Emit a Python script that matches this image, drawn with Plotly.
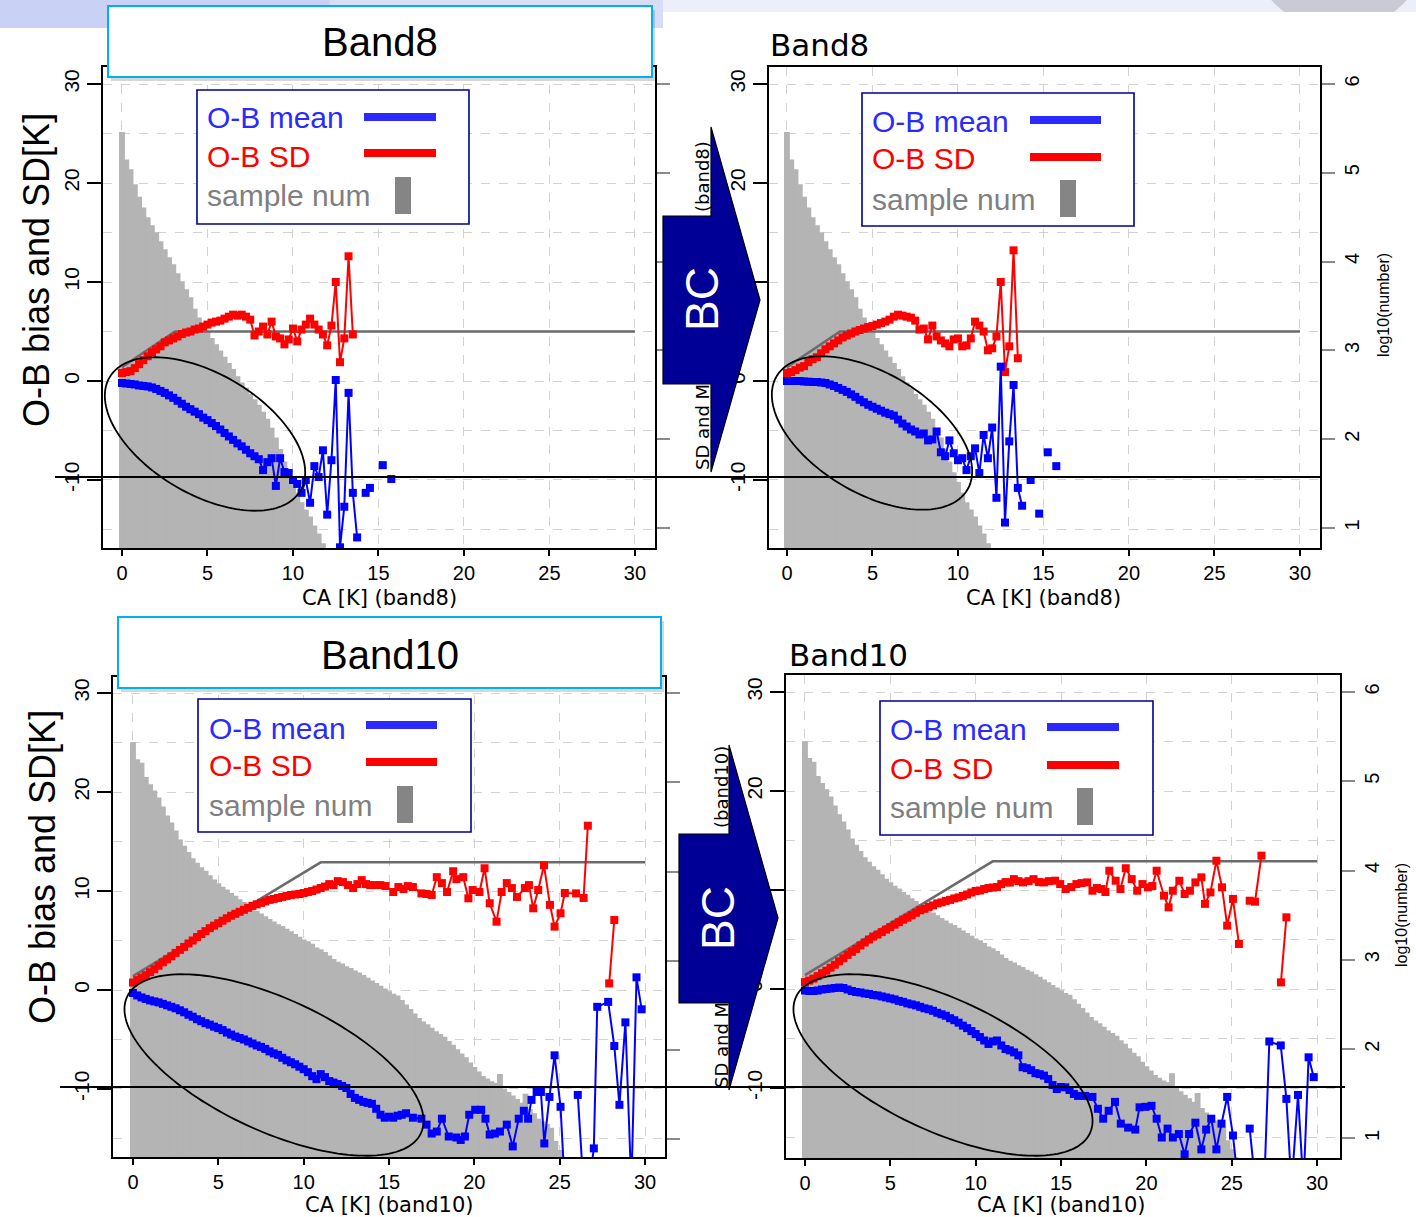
import math
import plotly.graph_objects as go

W, H = 1416, 1217
BIN = 0.25  # width (K) of the CA classes

# ---------------- data ----------------
# sample number per CA class, log10(number); classes start at 0 K, step BIN
hist_band8 = [5.45, 5.14, 5.03, 4.86, 4.72, 4.60, 4.49, 4.40, 4.32, 4.22,
              4.13, 4.04, 3.96, 3.86, 3.77, 3.68, 3.59, 3.46, 3.36, 3.27,
              3.20, 3.13, 3.06, 2.99, 2.92, 2.85, 2.78, 2.70, 2.63, 2.57,
              2.50, 2.44, 2.38, 2.30, 2.22, 2.12, 2.01, 1.88, 1.74, 1.62,
              1.51, 1.39, 1.28, 1.20, 1.12, 1.02, 0.93, 0.82, 0.70, 0.60, 0.50]
hist_band10 = [5.44, 5.25, 5.21, 5.05, 4.97, 4.90, 4.82, 4.72, 4.62, 4.54,
               4.45, 4.35, 4.28, 4.21, 4.14, 4.09, 4.04, 4.00, 3.95, 3.90,
               3.86, 3.82, 3.79, 3.75, 3.72, 3.68, 3.65, 3.61, 3.57, 3.55,
               3.52, 3.49, 3.46, 3.43, 3.40, 3.38, 3.35, 3.32, 3.29, 3.26,
               3.23, 3.21, 3.18, 3.14, 3.12, 3.09, 3.05, 3.01, 2.98, 2.96,
               2.93, 2.91, 2.88, 2.86, 2.83, 2.80, 2.77, 2.74, 2.71, 2.68,
               2.65, 2.62, 2.60, 2.55, 2.50, 2.45, 2.40, 2.35, 2.31, 2.28,
               2.24, 2.20, 2.17, 2.14, 2.09, 2.05, 2.00, 1.95, 1.91, 1.85,
               1.80, 1.75, 1.70, 1.67, 1.64, 1.62, 1.72, 1.56, 1.52, 1.48,
               1.44, 1.40, 1.50, 1.33, 1.28, 1.22, 1.19, 1.16, 1.12, 0.97,
               0.87, 0.78]

# reference (gray) line
gray8_x = [0, 3.1, 30]
gray8_y = [1.4, 5.0, 5.0]
gray10_x = [0, 11.0, 30]
gray10_y = [1.4, 12.9, 12.9]

# Band8 before BC (values per class, step BIN from 0 K)
b8_mean_before = [-0.2, -0.25, -0.3, -0.35, -0.45, -0.5, -0.55, -0.65, -0.8, -1.0,
                  -1.2, -1.45, -1.7, -2.0, -2.3, -2.6, -2.85, -3.1, -3.35, -3.7,
                  -3.95, -4.25, -4.55, -4.9, -5.25, -5.6, -5.95, -6.3, -6.6, -6.95,
                  -7.3, -7.6, -7.9, -9.0, -8.2, -7.8, -10.6, -7.8, -9.2, -9.3,
                  -10.0, -10.4, -11.3, -10.0, -12.3, -8.6, -9.7, -7.0, -13.5, -8.0,
                  0.1, -16.8, -12.7, -1.2, -11.3, -15.8, None, -11.3, -10.8, None,
                  None, -8.5, None, -9.9, None]
b8_sd_before = [0.8, 0.9, 1.0, 1.3, 1.7, 2.1, 2.5, 2.9, 3.2, 3.5,
                3.9, 4.1, 4.3, 4.5, 4.75, 4.9, 5.0, 5.2, 5.3, 5.5,
                5.7, 5.9, 6.0, 6.1, 6.3, 6.5, 6.7, 6.6, 6.7, 6.5,
                6.2, 4.6, 5.0, 5.5, 4.7, 6.0, 4.5, 4.3, 3.7, 4.2,
                5.3, 4.0, 5.2, 5.7, 6.3, 5.7, 5.2, 4.7, 3.6, 5.6,
                10.0, 1.9, 4.3, 12.6, 4.7]

# Band8 after BC
b8_mean_after = [0.0, 0.0, 0.0, 0.0, -0.05, -0.07, -0.1, -0.1, -0.15, -0.2,
                 -0.35, -0.5, -0.7, -0.9, -1.1, -1.35, -1.6, -1.9, -2.15, -2.4,
                 -2.6, -2.8, -3.0, -3.2, -3.35, -3.5, -3.9, -4.3, -4.6, -4.9,
                 -5.1, -5.4, -5.3, -6.0, -5.9, -5.1, -7.2, -7.6, -6.0, -7.3,
                 -8.0, -7.8, -9.0, -7.6, -6.8, -9.3, -5.45, -7.8, -4.7, -11.8,
                 1.45, -14.3, -6.1, -0.4, -10.8, -12.6, None, -10.0, None, -13.4,
                 None, -7.2, None, -8.6, None]
b8_sd_after = [0.8, 0.9, 1.1, 1.35, 1.5, 1.9, 2.2, 2.4, 2.8, 3.2,
               3.5, 3.8, 4.1, 4.4, 4.6, 4.8, 5.0, 5.15, 5.3, 5.45,
               5.55, 5.7, 5.85, 6.0, 6.2, 6.5, 6.7, 6.6, 6.5, 6.4,
               6.1, 5.2, 5.3, 4.2, 5.6, 4.5, 4.1, 3.8, 3.5, 4.2,
               4.3, 3.5, 3.6, 4.3, 6.0, 5.6, 5.0, 3.1, 3.3, 4.5,
               10.0, 0.9, 3.5, 13.2, 2.3]

# Band10 before BC: dense classes (step BIN from 0 K) + sparse tail (CA, value)
b10_mean_before = [-0.3, -0.55, -0.75, -0.9, -1.05, -1.15, -1.25, -1.4, -1.55, -1.7,
                   -1.85, -2.05, -2.25, -2.5, -2.7, -2.95, -3.15, -3.35, -3.5, -3.7,
                   -3.85, -4.05, -4.3, -4.5, -4.7, -4.85, -5.0, -5.2, -5.4, -5.6,
                   -5.75, -5.95, -6.2, -6.4, -6.55, -6.85, -7.1, -7.3, -7.5, -7.75,
                   -8.0, -8.3, -8.7, -9.0, -8.5, -8.8, -9.2, -9.35, -9.5, -9.7,
                   -9.9, -10.5, -10.9, -11.1, -11.3, -11.4, -11.5, -12.0, -12.6, -12.9,
                   -12.8, -12.9, -12.7, -12.6]
b10_mean_before_tail_ca = [16.0, 16.4, 16.9, 17.2, 17.5, 17.8, 18.1, 18.5, 18.95, 19.2,
                           19.45, 19.7, 20.05, 20.4, 20.65, 20.9, 21.2, 21.5, 21.9, 22.25,
                           22.6, 22.9, 23.15, 23.35, 23.65, 23.9, 24.1, 24.4, 24.7, 25.05,
                           25.3, 25.7, 26.06, 26.4, 26.7, 27.0, 27.2, 27.84, 28.2, 28.5,
                           28.85, 29.2, 29.5, 29.8]
b10_mean_before_tail = [-12.45, -12.9, -13.0, -13.6, -14.5, -14.3, -13.0, -14.8, -14.9, -15.15,
                        -14.8, -12.6, -12.1, -12.1, -13.0, -14.6, -14.5, -14.3, -13.6, -15.8,
                        -13.0, -12.2, -13.0, -11.1, -10.3, -10.3, -15.5, -10.8, -6.6, -11.8,
                        -20, None, -10.6, -20, -20, -16.0, -1.7, -1.2, -5.66, -11.6,
                        -3.27, -20, 1.28, -1.95]
b10_sd_before = [0.75, 1.0, 1.25, 1.5, 1.8, 2.1, 2.45, 2.8, 3.1, 3.4,
                 3.75, 4.05, 4.35, 4.7, 5.0, 5.35, 5.65, 5.95, 6.25, 6.5,
                 6.75, 7.0, 7.25, 7.5, 7.7, 7.9, 8.1, 8.3, 8.5, 8.65,
                 8.8, 8.95, 9.1, 9.2, 9.3, 9.4, 9.5, 9.6, 9.65, 9.7,
                 9.8, 9.9, 10.0, 10.15, 10.3, 10.45, 10.7, 10.6, 11.0]
b10_sd_before_tail_ca = [12.3, 12.6, 12.9, 13.15, 13.4, 13.65, 13.9, 14.2, 14.5, 14.8,
                         15.25, 15.55, 15.85, 16.1, 16.4, 16.9, 17.2, 17.5, 17.8, 18.1,
                         18.4, 18.76, 18.95, 19.35, 19.65, 19.9, 20.3, 20.6, 20.9, 21.3,
                         21.6, 21.9, 22.2, 22.5, 22.96, 23.2, 23.45, 23.74, 24.08, 24.43,
                         24.7, 25.05, 25.3, 25.96, 26.4, 26.65, 27.3, 27.9, 28.2]
b10_sd_before_tail = [10.9, 10.6, 10.3, 10.7, 11.1, 10.7, 10.6, 10.6, 10.6, 10.5,
                      9.9, 10.4, 10.2, 10.5, 10.4, 9.76, 9.7, 9.6, 11.4, 10.8,
                      9.9, 12.0, 11.2, 11.4, 9.26, 10.1, 9.9, 12.3, 8.76, 6.9,
                      9.9, 10.8, 10.3, 9.4, 10.3, 10.6, 8.25, 10.1, 12.6, 8.6,
                      6.4, 7.75, 9.8, 9.76, 9.3, 16.6, None, 0.67, 7.07]

# Band10 after BC
b10_mean_after = [-0.15, -0.2, -0.2, -0.15, -0.05, 0.0, 0.05, 0.1, 0.15, 0.1,
                  -0.05, -0.2, -0.3, -0.35, -0.45, -0.5, -0.6, -0.65, -0.75, -0.85,
                  -0.95, -1.05, -1.2, -1.3, -1.45, -1.55, -1.65, -1.8, -1.95, -2.05,
                  -2.2, -2.4, -2.55, -2.7, -2.95, -3.15, -3.4, -3.7, -3.95, -4.25,
                  -4.55, -4.85, -5.2, -5.55, -5.3, -5.2, -5.7, -6.06, -6.2, -6.4,
                  -6.7, -7.9, -8.0, -8.2, -8.5, -8.6, -8.75, -9.1, -9.7, -10.1,
                  -9.9, -9.93, -10.2, -10.6]
b10_mean_after_tail_ca = [16.0, 16.4, 16.84, 17.16, 17.47, 17.79, 18.16, 18.5, 18.93, 19.35,
                          19.6, 19.95, 20.3, 20.6, 20.9, 21.24, 21.55, 21.9, 22.24, 22.5,
                          22.87, 23.22, 23.5, 23.8, 24.1, 24.4, 24.73, 25.07, 25.4, 25.7,
                          26.05, 26.4, 26.7, 26.9, 27.2, 27.87, 28.2, 28.5, 28.88, 29.2,
                          29.5, 29.8]
b10_mean_after_tail = [-10.8, -10.8, -10.9, -12.1, -13.1, -12.3, -11.4, -13.6, -14.0, -14.2,
                       -11.95, -11.9, -11.8, -13.1, -15.0, -14.1, -15.0, -14.65, -16.7, -14.65,
                       -13.5, -16.2, -14.2, -13.1, -16.2, -13.6, -10.9, -14.8, -20, None,
                       -14.1, -20, None, -20, -5.3, -5.7, -11.1, -20, -10.7, -20,
                       -6.9, -8.9]
b10_sd_after = [0.7, 0.85, 1.05, 1.3, 1.6, 1.85, 2.15, 2.45, 2.8, 3.1,
                3.45, 3.75, 4.05, 4.4, 4.7, 5.0, 5.3, 5.5, 5.75, 6.0,
                6.25, 6.5, 6.75, 7.0, 7.2, 7.45, 7.7, 7.95, 8.1, 8.3,
                8.45, 8.65, 8.75, 8.9, 9.0, 9.15, 9.25, 9.4, 9.55, 9.75,
                9.9, 9.95, 10.1, 10.2, 10.25, 10.3, 10.6, 10.8, 10.75]
b10_sd_after_tail_ca = [12.24, 12.5, 12.77, 13.1, 13.39, 13.7, 14.0, 14.3, 14.65, 14.95,
                        15.27, 15.6, 15.9, 16.2, 16.53, 16.84, 17.1, 17.36, 17.6, 17.83,
                        18.2, 18.48, 18.79, 19.14, 19.46, 19.77, 20.09, 20.35, 20.6, 21.03,
                        21.3, 21.55, 21.93, 22.24, 22.55, 22.87, 23.22, 23.43, 23.75, 24.1,
                        24.43, 24.73, 25.07, 25.42, 25.75, 26.05, 26.36, 26.74, 27.3, 27.88,
                        28.2]
b10_sd_after_tail = [11.1, 10.9, 10.77, 10.9, 11.1, 10.8, 10.77, 10.9, 10.94, 10.6,
                     10.1, 10.3, 10.6, 10.7, 10.77, 9.93, 10.2, 10.1, 9.8, 11.95,
                     10.94, 10.1, 12.2, 11.1, 9.93, 10.6, 10.27, 10.4, 11.95, 9.43,
                     8.25, 9.93, 10.94, 9.6, 9.93, 10.77, 11.28, 8.6, 9.76, 12.96,
                     10.27, 6.4, 9.1, 4.55, None, 8.92, 8.82, 13.47, None, 0.67,
                     7.24]

x_ticks = [0, 5, 10, 15, 20, 25, 30]
y_ticks = [-10, 0, 10, 20, 30]
y_ticktext = ["-10", "0", "10", "20", "30"]
log_ticks = [1, 2, 3, 4, 5, 6]

# ---------------- helpers ----------------
FONT = "Liberation Sans, Arial, sans-serif"
FONT2 = "DejaVu Sans, sans-serif"
GRID = "#d2d2d2"
HIST_COLOR = "#b4b4b4"


def classes(vals):
    return [i * BIN for i in range(len(vals))]


def series(dense, tail_ca=None, tail=None):
    xs = classes(dense)
    ys = list(dense)
    if tail_ca:
        xs += tail_ca
        ys += tail
    return xs, ys


def fx(x):
    return x / W


def fy(y):
    return 1 - y / H


def rect(x0, y0, x1, y1, **kw):
    return dict(type="rect", xref="paper", yref="paper",
                x0=fx(x0), x1=fx(x1), y0=fy(y1), y1=fy(y0), **kw)


def poly(points, **kw):
    d = "M " + " L ".join(f"{fx(x):.5f},{fy(y):.5f}" for x, y in points) + " Z"
    return dict(type="path", xref="paper", yref="paper", path=d, **kw)


def ellipse(cx, cy, a, b, deg):
    th = math.radians(deg)
    pts = []
    for k in range(160):
        t = 2 * math.pi * k / 160
        ex, ey = a * math.cos(t), b * math.sin(t)
        pts.append((cx + ex * math.cos(th) - ey * math.sin(th),
                    cy + ex * math.sin(th) + ey * math.cos(th)))
    return poly(pts, line=dict(color="black", width=1.8), fillcolor="rgba(0,0,0,0)", layer="above")


def hline(x0, x1, y, color="black", width=2):
    return dict(type="line", xref="paper", yref="paper", x0=fx(x0), x1=fx(x1),
                y0=fy(y), y1=fy(y), line=dict(color=color, width=width), layer="above")


def ann(text, x, y, size, color="black", family=FONT, angle=0, xanchor="center"):
    return dict(text=text, x=fx(x), y=fy(y), xref="paper", yref="paper", showarrow=False,
                xanchor=xanchor, yanchor="middle", textangle=angle,
                font=dict(family=family, size=size, color=color))


# ---------------- panels ----------------
panels = [
    dict(px=(103, 655, 67, 548), xr=[-1.11, 31.17], yr=[-16.87, 31.72], lr=[0.775, 6.19], lab=False,
         hist=hist_band8, gx=gray8_x, gy=gray8_y,
         sd=series(b8_sd_before), mean=series(b8_mean_before)),
    dict(px=(769, 1320, 67, 548), xr=[-1.05, 31.17], yr=[-16.87, 31.72], lr=[0.775, 6.19], lab=True,
         hist=hist_band8, gx=gray8_x, gy=gray8_y,
         sd=series(b8_sd_after), mean=series(b8_mean_after)),
    dict(px=(113, 665, 677, 1157), xr=[-1.17, 31.17], yr=[-16.87, 31.62], lr=[0.80, 6.18], lab=False,
         hist=hist_band10, gx=gray10_x, gy=gray10_y,
         sd=series(b10_sd_before, b10_sd_before_tail_ca, b10_sd_before_tail),
         mean=series(b10_mean_before, b10_mean_before_tail_ca, b10_mean_before_tail)),
    dict(px=(786, 1340, 675, 1158), xr=[-1.11, 31.34], yr=[-17.07, 31.72], lr=[0.78, 6.19], lab=True,
         hist=hist_band10, gx=gray10_x, gy=gray10_y,
         sd=series(b10_sd_after, b10_sd_after_tail_ca, b10_sd_after_tail),
         mean=series(b10_mean_after, b10_mean_after_tail_ca, b10_mean_after_tail)),
]

fig = go.Figure()
layout = {}
tickfont = dict(family=FONT, size=21, color="black")

for i, p in enumerate(panels, start=1):
    xa = "x" if i == 1 else f"x{i}"
    yb = "y" if i == 1 else f"y{2 * i - 1}"
    yo = f"y{2 * i}"
    l, r, t, b = p["px"]

    fig.add_trace(go.Bar(x=classes(p["hist"]), y=p["hist"], width=BIN,
                         marker=dict(color=HIST_COLOR, line=dict(width=1.6, color=HIST_COLOR)),
                         xaxis=xa, yaxis=yb, hoverinfo="skip"))
    fig.add_trace(go.Scatter(x=p["gx"], y=p["gy"], mode="lines",
                             line=dict(color="#6b6b6b", width=2.5), xaxis=xa, yaxis=yo))
    fig.add_trace(go.Scatter(x=p["sd"][0], y=p["sd"][1], mode="lines+markers",
                             line=dict(color="#ff0000", width=2),
                             marker=dict(symbol="square", size=8, color="#ff0000"),
                             xaxis=xa, yaxis=yo))
    fig.add_trace(go.Scatter(x=p["mean"][0], y=p["mean"][1], mode="lines+markers",
                             line=dict(color="#0000ff", width=2),
                             marker=dict(symbol="square", size=8, color="#0000ff"),
                             xaxis=xa, yaxis=yo))

    layout["xaxis" if i == 1 else f"xaxis{i}"] = dict(
        domain=[fx(l), fx(r)], range=p["xr"], anchor=yb, tickvals=x_ticks,
        ticks="outside", ticklen=6, tickwidth=1.5, tickcolor="black",
        showline=True, linecolor="black", linewidth=1.5, mirror=True,
        showgrid=True, gridcolor=GRID, griddash="dash", gridwidth=1, zeroline=False,
        tickfont=dict(family=FONT, size=20, color="black"))
    layout["yaxis" if i == 1 else f"yaxis{2 * i - 1}"] = dict(
        domain=[fy(b), fy(t)], range=p["lr"], anchor=xa, side="right", tickvals=log_ticks,
        ticks="outside", ticklen=13, tickwidth=2, tickcolor="#8a8a8a",
        showline=True, linecolor="black", linewidth=1.5, showgrid=False, zeroline=False,
        showticklabels=p["lab"], tickangle=-90, tickfont=dict(family=FONT, size=20, color="black"))
    layout[f"yaxis{2 * i}"] = dict(
        range=p["yr"], overlaying=yb, anchor=xa, side="left",
        tickvals=y_ticks, ticktext=y_ticktext, ticks="outside", ticklen=14, tickwidth=1.5,
        tickcolor="black", showline=True, linecolor="black", linewidth=1.5,
        showgrid=True, gridcolor=GRID, griddash="dash", gridwidth=1, zeroline=False,
        minor=dict(tickvals=[-15, -5, 5, 15, 25], showgrid=True, gridcolor=GRID,
                   griddash="dash", gridwidth=1, ticks=""),
        tickangle=-90, tickfont=tickfont)

# original plot titles of the left panels (mostly hidden behind the slide boxes)
fig.add_trace(go.Scatter(x=[-1.11], y=[33.94], mode="text", text=["Band8"], textposition="middle right",
                         textfont=dict(family=FONT2, size=31, color="black"),
                         xaxis="x", yaxis="y2", cliponaxis=False, hoverinfo="skip"))
fig.add_trace(go.Scatter(x=[-1.17], y=[33.84], mode="text", text=["Band10"], textposition="middle right",
                         textfont=dict(family=FONT2, size=31, color="black"),
                         xaxis="x3", yaxis="y6", cliponaxis=False, hoverinfo="skip"))

# ---------------- decorations (slide overlay) ----------------
shapes = []
# slide background strips at top
shapes.append(rect(0, 0, 330, 28, fillcolor="#c9d1f4", line=dict(width=0), layer="below"))
shapes.append(rect(330, 0, 663, 28, fillcolor="#d8ddf7", line=dict(width=0), layer="below"))
shapes.append(rect(663, 0, 1416, 12, fillcolor="#eceffa", line=dict(width=0), layer="below"))
shapes.append(dict(type="circle", xref="paper", yref="paper", x0=fx(1248), x1=fx(1430),
                   y0=fy(30), y1=fy(-150), fillcolor="#c9cad3", line=dict(width=0), layer="below"))
shapes.append(rect(663, 12, 1416, 40, fillcolor="white", line=dict(width=0), layer="below"))

# ellipses
shapes.append(ellipse(205, 434, 111, 60, 30.8))
shapes.append(ellipse(872, 433, 111, 60, 30.8))
shapes.append(ellipse(274, 1065, 162, 66, 24.9))
shapes.append(ellipse(943, 1065, 162, 66, 24.9))

# horizontal black lines
shapes.append(hline(55, 1320, 477))
shapes.append(hline(60, 1345, 1087))

# legend boxes
legends = [
    dict(box=(197, 90, 469, 224), tx=205, ty=(118, 156, 196), lx=(364, 436), ly=(117, 153), bar=(395, 177, 411, 214)),
    dict(box=(862, 93, 1134, 226), tx=870, ty=(121, 159, 199), lx=(1030, 1101), ly=(120, 157), bar=(1060, 180, 1076, 217)),
    dict(box=(198, 699, 471, 832), tx=207, ty=(728, 765, 805), lx=(366, 437), ly=(725, 762), bar=(397, 786, 413, 823)),
    dict(box=(880, 701, 1153, 835), tx=888, ty=(729, 768, 807), lx=(1047, 1119), ly=(727, 765), bar=(1077, 788, 1093, 825)),
]
annotations = []
for lg in legends:
    x0, y0, x1, y1 = lg["box"]
    shapes.append(rect(x0, y0, x1, y1, fillcolor="white", line=dict(color="#000090", width=1.6), layer="above"))
    shapes.append(hline(lg["lx"][0], lg["lx"][1], lg["ly"][0], color="#2a2aff", width=8))
    shapes.append(hline(lg["lx"][0], lg["lx"][1], lg["ly"][1], color="#ff0000", width=8))
    bx0, by0, bx1, by1 = lg["bar"]
    shapes.append(rect(bx0, by0, bx1, by1, fillcolor="#858585", line=dict(width=0), layer="above"))
    annotations.append(ann("O-B mean", lg["tx"], lg["ty"][0], 30, "#2a2aff", xanchor="left"))
    annotations.append(ann("O-B SD", lg["tx"], lg["ty"][1], 30, "#ff0000", xanchor="left"))
    annotations.append(ann("sample num", lg["tx"], lg["ty"][2], 30, "#808080", xanchor="left"))

# slide title boxes
for (x0, y0, x1, y1) in [(108, 6, 652, 77), (118, 617, 661, 688)]:
    shapes.append(rect(x0 + 3, y0 + 4, x1 + 3, y1 + 4, fillcolor="rgba(0,0,0,0.16)", line=dict(width=0), layer="above"))
    shapes.append(rect(x0, y0, x1, y1, fillcolor="white", line=dict(color="#00b0f0", width=2), layer="above"))
annotations.append(ann("Band8", 380, 42, 40))
annotations.append(ann("Band10", 390, 655, 40))

# right-panel axis-title fragments (rest hidden by the arrows)
annotations.append(ann("(band8)", 703, 177, 18, family=FONT2, angle=-90))
annotations.append(ann("SD and M", 703, 427, 18, family=FONT2, angle=-90))
annotations.append(ann("(band10)", 721, 787, 18, family=FONT2, angle=-90))
annotations.append(ann("SD and M", 721, 1045, 18, family=FONT2, angle=-90))

# BC arrows
shapes.append(poly([(663, 216), (711, 216), (711, 127), (760, 300), (711, 472), (711, 384), (663, 384)],
                   fillcolor="#000096", line=dict(color="black", width=1.2), layer="above"))
shapes.append(poly([(679, 834), (729, 834), (729, 745), (778, 918), (729, 1090), (729, 1003), (679, 1003)],
                   fillcolor="#000096", line=dict(color="black", width=1.2), layer="above"))
annotations.append(ann("BC", 702, 299, 46, "white", angle=-90))
annotations.append(ann("BC", 718, 918, 46, "white", angle=-90))

# panel titles / axis titles
annotations.append(ann("Band8", 768, 45, 31, family=FONT2, xanchor="left"))
annotations.append(ann("Band10", 787, 655, 31, family=FONT2, xanchor="left"))
annotations.append(ann("CA [K] (band8)", 379, 598, 21, family=FONT2))
annotations.append(ann("CA [K] (band8)", 1043, 598, 21, family=FONT2))
annotations.append(ann("CA [K] (band10)", 389, 1205, 21, family=FONT2))
annotations.append(ann("CA [K] (band10)", 1061, 1205, 21, family=FONT2))
annotations.append(ann("log10(number)", 1383, 305, 16, angle=-90))
annotations.append(ann("log10(number)", 1401, 915, 16, angle=-90))
annotations.append(ann("O-B bias and SD[K]", 36, 270, 36, angle=-90))
annotations.append(ann("O-B bias and SD[K]", 42, 867, 36, angle=-90))

fig.update_layout(
    width=W, height=H, margin=dict(l=0, r=0, t=0, b=0),
    paper_bgcolor="white", plot_bgcolor="white", showlegend=False,
    shapes=shapes, annotations=annotations, **layout)

fig.write_html("out.html", config={"displayModeBar": False},
               post_script="document.body.style.margin='0px';document.body.style.overflow='hidden';")
